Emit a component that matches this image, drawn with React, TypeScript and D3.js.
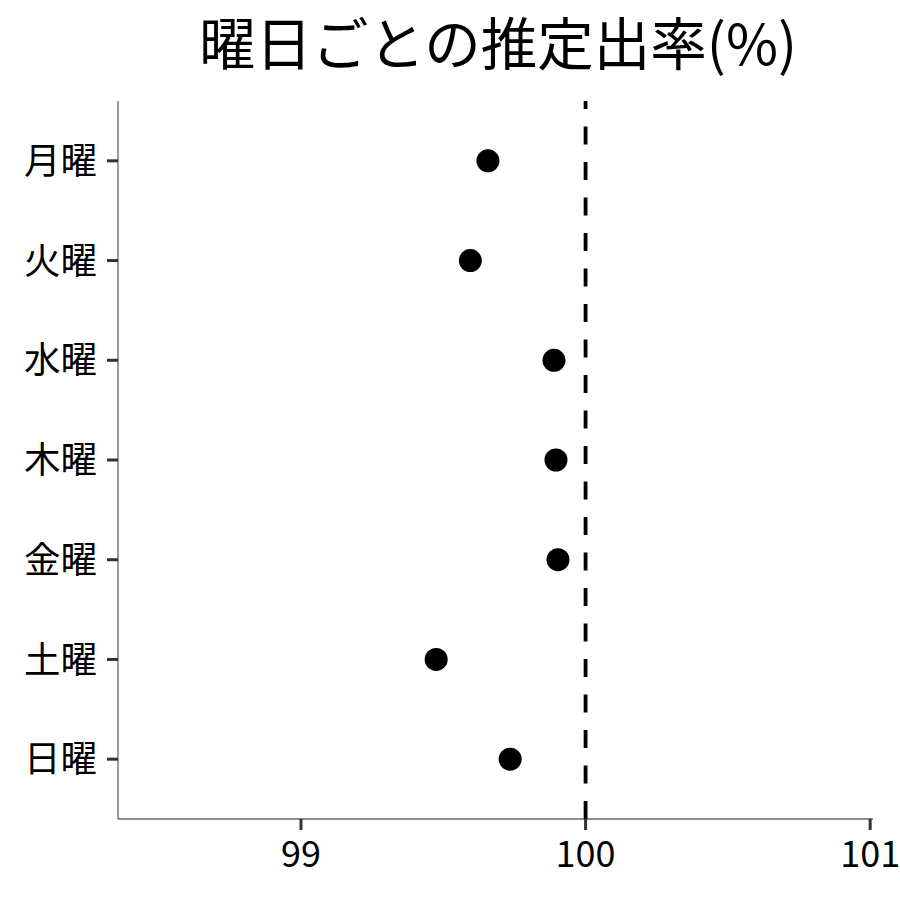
import React from "react";
import * as d3 from "d3";

const days = ["月曜", "火曜", "水曜", "木曜", "金曜", "土曜", "日曜"];
const estimates = [99.657, 99.595, 99.889, 99.896, 99.903, 99.475, 99.735];
const xTicks = [99, 100, 101];
const refValue = 100;
const title = "曜日ごとの推定出率(%)";

const W = 900;
const H = 900;
const left = 118;
const right = 873;
const top = 101;
const bottom = 819;
const FONT = "'Noto Sans CJK JP', 'Noto Sans', sans-serif";

export default function App() {
  const x = d3.scaleLinear().domain([98.357, 101.01]).range([left, right]);
  const y = d3
    .scalePoint<string>()
    .domain(days)
    .range([top, bottom])
    .padding(0.6);

  return (
    <svg
      width={W}
      height={H}
      style={{ position: "absolute", left: 0, top: 0, background: "#fff" }}
      fontFamily={FONT}
    >
      <defs>
        <clipPath id="panel">
          <rect x={left} y={top} width={right - left} height={bottom - top} />
        </clipPath>
      </defs>
      <rect x={0} y={0} width={W} height={H} fill="#fff" />
      <text x={498} y={65} textAnchor="middle" fontSize={56.5} fill="#000">
        {title}
      </text>
      {/* axes */}
      <line x1={left} x2={left} y1={top} y2={bottom} stroke="#666" strokeWidth={1.3} />
      <line x1={left} x2={right} y1={bottom} y2={bottom} stroke="#666" strokeWidth={1.3} />
      {days.map((d) => (
        <g key={d}>
          <line x1={left - 11} x2={left} y1={y(d)} y2={y(d)} stroke="#333" strokeWidth={3} />
          <text
            x={97}
            y={y(d)!}
            dy="0.36em"
            textAnchor="end"
            fontSize={36.5}
            fill="#000"
          >
            {d}
          </text>
        </g>
      ))}
      {xTicks.map((t) => (
        <g key={t}>
          <line x1={x(t)} x2={x(t)} y1={bottom} y2={bottom + 11} stroke="#333" strokeWidth={3} />
          <text x={x(t)} y={867} textAnchor="middle" fontSize={36} fill="#000">
            {t}
          </text>
        </g>
      ))}
      <g clipPath="url(#panel)">
        <line
          x1={x(refValue)}
          x2={x(refValue)}
          y1={bottom}
          y2={top - 20}
          stroke="#000"
          strokeWidth={3.8}
          strokeDasharray="18 17.5"
        />
        {days.map((d, i) => (
          <circle key={d} cx={x(estimates[i])} cy={y(d)} r={11.5} fill="#000" />
        ))}
      </g>
    </svg>
  );
}
